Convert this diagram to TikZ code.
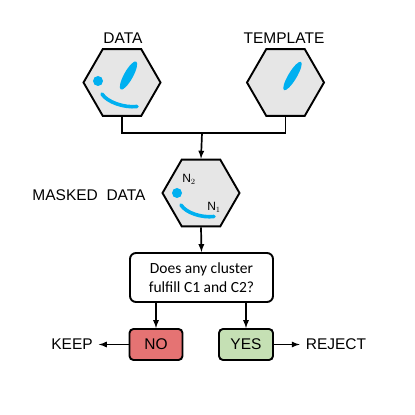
\documentclass[tikz,border=0pt]{standalone}
\usepackage{fontspec}
\setmainfont{Liberation Sans}
\newfontfamily\calibrifont{Carlito}
\usepackage{xcolor}
\usepackage{tikz}
\usetikzlibrary{shapes.geometric}

\definecolor{dotblue}{HTML}{00B0F0}
\definecolor{hexgray}{HTML}{E6E6E6}
\definecolor{nored}{HTML}{E57373}
\definecolor{yesgreen}{HTML}{C5E0B4}

\begin{document}
\begin{tikzpicture}[x=1pt, y=1pt,
  hexnode/.style={regular polygon, regular polygon sides=6, draw=black, fill=hexgray, line width=1.9pt, inner sep=0pt, minimum size=77pt},
  labelnode/.style={font=\fontsize{15.5}{18}\selectfont, inner sep=0pt},
  answernode/.style={draw=black, rounded corners=4pt, line width=1.9pt, minimum width=53pt, minimum height=31pt, inner sep=0pt, font=\fontsize{15.5}{18}\selectfont},
  blob/.style={fill=dotblue, draw=none},
  smile/.style={draw=dotblue, line width=3.6pt, line cap=round},
  flow/.style={line width=1.7pt, -latex}]
\useasboundingbox (0,0) rectangle (415,415);

\node[hexnode] (data) at (122, 332.5) {};
\node[hexnode] (template) at (285.5, 332.5) {};
\node[hexnode] (masked) at (201, 222) {};

\node[labelnode] (datalabel) at (123, 377) {DATA};
\node[labelnode] (templatelabel) at (284, 377) {TEMPLATE};
\node[labelnode] (maskedlabel) at (89, 220) {MASKED\ \ DATA};

\node[draw=black, rounded corners=6pt, line width=1.9pt, minimum width=143pt, minimum height=49pt, align=center, inner sep=0pt, font=\calibrifont\fontsize{15.5}{19}\selectfont] (question) at (201.5, 137.5) {Does any cluster\\fulfill C1 and C2?};

\node[answernode, fill=nored] (no) at (156, 70.5) {NO};
\node[answernode, fill=yesgreen, minimum width=54pt] (yes) at (246, 70.5) {YES};
\node[labelnode] (keep) at (72, 70.5) {KEEP};
\node[labelnode] (reject) at (336, 70.5) {REJECT};

% blue clusters
\fill[blob] (98, 334) circle (5);
\fill[blob, rotate around={61:(128.5,339.5)}] (128.5,339.5) ellipse [x radius=16, y radius=4.5];
\draw[smile] (102,321) .. controls (107,313) and (124,307) .. (137,308.5);
\fill[blob, rotate around={59:(292.5,339)}] (292.5,339) ellipse [x radius=16.5, y radius=4.2];
\fill[blob] (177, 222) circle (5);
\draw[smile] (181,210) .. controls (186,202) and (202,197) .. (214,198.5);
\node[font=\fontsize{12}{14}\selectfont, inner sep=0pt] (n2) at (189, 235.5) {N$_2$};
\node[font=\fontsize{12}{14}\selectfont, inner sep=0pt] (n1) at (214, 208) {N$_1$};

% connectors
\coordinate (join) at (202, 282);
\draw[line width=1.7pt] (data.south) |- (join) -| (template.south);
\draw[flow] (join) -- (masked.north);
\draw[flow] (masked.south) -- (question.north);
\draw[flow] (question.south -| no.north) -- (no.north);
\draw[flow] (question.south -| yes.north) -- (yes.north);
\draw[flow] (no.west) -- ([xshift=6pt]keep.east);
\draw[flow] (yes.east) -- ([xshift=-6pt]reject.west);

\end{tikzpicture}
\end{document}
